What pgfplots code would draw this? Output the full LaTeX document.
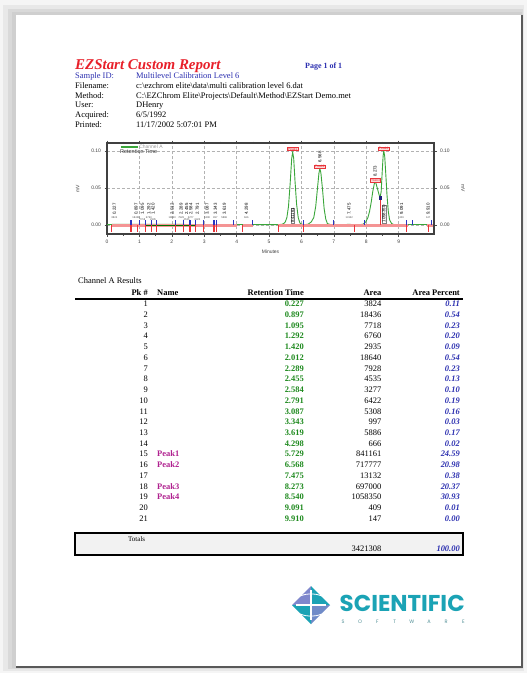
\documentclass[border=0pt]{standalone}
\usepackage{pgfplots}
\pgfplotsset{compat=1.18}
\usepackage{fontspec}
\setmainfont{Liberation Serif}
\setsansfont{Liberation Sans}
\newfontfamily\logofont{Poppins}

\definecolor{ezred}{HTML}{E8202A}
\definecolor{ezblue}{HTML}{2B2FB0}
\definecolor{ezgreen}{HTML}{1E8A1E}
\definecolor{ezmag}{HTML}{B0208F}
\definecolor{trace}{HTML}{3AA63A}
\definecolor{band}{HTML}{F49494}
\definecolor{mred}{HTML}{E8343A}
\definecolor{mblue}{HTML}{2A35C0}
\definecolor{teal}{HTML}{1BA3B5}
\definecolor{lav}{HTML}{7F87CC}

\tikzset{
  t/.style={inner sep=0pt, font=\fontsize{8.5}{9}\selectfont},
  hd/.style={inner sep=0pt, font=\fontsize{8.5}{9}\selectfont\bfseries},
  lbl/.style={inner sep=0.3pt, rotate=90, anchor=west, font=\fontsize{4.4}{5}\sffamily},
  tiny/.style={inner sep=0pt, font=\fontsize{2.6}{3}\sffamily, text=black!70},
  pbox/.style={draw=mred, text=mred, fill=band!35, inner sep=0.5pt, line width=0.4bp, font=\fontsize{3.4}{4}\sffamily},
}

\begin{document}
\begin{tikzpicture}[x=1bp,y=-1bp]
\useasboundingbox (0,0) rectangle (527,673);
% sheet and shadow
\fill[black!4] (0,0) rectangle (527,673);
\fill[black!9] (3,5) rectangle (524,671);
\fill[black!15] (8,9) rectangle (523,669);
\fill[black!19] (12,12) rectangle (522,668);
\fill[white] (16,15) rectangle (522,667);
\draw[black!65, line width=1.8bp] (522,15) -- (522,667) -- (16,667);

% report header
\node[inner sep=0pt, anchor=base west, text=ezred, font=\fontsize{15}{15}\selectfont\bfseries\itshape] at (75,69.5) {EZStart Custom Report};
\node[hd, anchor=base west, text=ezblue, font=\fontsize{8}{8}\selectfont\bfseries] at (305,68.5) {Page 1 of 1};
\node[t, anchor=base west, text=ezblue] at (75,79) {Sample ID:};
\node[t, anchor=base west, text=ezblue] at (136,79) {Multilevel Calibration Level 6};
\node[t, anchor=base west] at (75,89) {Filename:};
\node[t, anchor=base west] at (136,89) {c:\textbackslash ezchrom elite\textbackslash data\textbackslash multi calibration level 6.dat};
\node[t, anchor=base west] at (75,98.5) {Method:};
\node[t, anchor=base west] at (136,98.5) {C:\textbackslash EZChrom Elite\textbackslash Projects\textbackslash Default\textbackslash Method\textbackslash EZStart Demo.met};
\node[t, anchor=base west] at (75,108) {User:};
\node[t, anchor=base west] at (136,108) {DHenry};
\node[t, anchor=base west] at (75,118) {Acquired:};
\node[t, anchor=base west] at (136,118) {6/5/1992};
\node[t, anchor=base west] at (75,127.5) {Printed:};
\node[t, anchor=base west] at (136,127.5) {11/17/2002 5:07:01 PM};

% chromatogram
\begin{axis}[
  at={(107bp,-234bp)}, anchor=south west, scale only axis,
  width=327bp, height=91bp,
  xmin=0, xmax=10.09, ymin=-0.0121, ymax=0.1104,
  xtick={0,1,...,9}, minor x tick num=1,
  ytick={0,0.05,0.1}, yticklabels={0.00,0.05,0.10},
  /pgf/number format/assume math mode=true,
  tick align=outside,
  major tick length=2.5bp, minor tick length=1.5bp,
  tick style={black!70, line width=0.4bp},
  axis line style={black!75, line width=1.4bp},
  xmajorgrids, ymajorgrids,
  major grid style={densely dashed, black!30, line width=0.4bp},
  tick label style={font=\fontsize{5}{5}\sffamily, text=black!75},
  xlabel={Minutes}, ylabel={mV},
  label style={font=\fontsize{5}{5}\sffamily, text=black!75},
  xlabel style={at={(axis description cs:0.5,-0.2)}, anchor=center},
  ylabel style={at={(axis description cs:-0.09,0.5)}, anchor=center},
  legend style={at={(axis cs:0.38,0.1098)}, anchor=north west, draw=none, fill=none,
    font=\fontsize{5}{5}\sffamily, text=black!40, inner sep=0.5pt,
    nodes={inner sep=0.5pt}},
  legend image post style={line width=1.8bp},
]
% detector trace
\addplot[trace, line width=0.9bp] coordinates {
(0,0.0005) (0.227,0.0009) (1.0,0.0009) (2.0,0.0008) (3.0,0.0007) (4.298,0.0007)
(5.30,0.0005) (5.40,0.001) (5.45,0.002) (5.50,0.004) (5.55,0.010) (5.60,0.025)
(5.65,0.055) (5.70,0.090) (5.729,0.098) (5.76,0.090) (5.80,0.060) (5.85,0.028)
(5.90,0.010) (5.95,0.003) (6.00,0.001) (6.10,0.0005)
(6.20,0.001) (6.30,0.004) (6.38,0.010) (6.44,0.025) (6.50,0.052) (6.54,0.070)
(6.568,0.076) (6.60,0.070) (6.65,0.048) (6.70,0.022) (6.75,0.008) (6.80,0.002)
(6.90,0.0005) (7.475,0.0008) (7.80,0.0005)
(7.90,0.001) (7.98,0.004) (8.05,0.010) (8.10,0.018) (8.15,0.030) (8.20,0.045)
(8.25,0.056) (8.273,0.058) (8.30,0.056) (8.35,0.048) (8.40,0.040) (8.43,0.038)
(8.46,0.045) (8.49,0.070) (8.52,0.093) (8.54,0.100) (8.57,0.092) (8.60,0.070)
(8.64,0.040) (8.68,0.018) (8.72,0.007) (8.78,0.002) (8.85,0.0005)
(9.091,0.0007) (9.910,0.0007) (10.09,0.0005)};
\addlegendentry{Channel A}
% integration baselines
\addplot[band, line width=3bp, forget plot] coordinates {(0.15,-0.0006) (4.0,-0.0006)};
\addplot[band, line width=3bp, forget plot] coordinates {(4.19,-0.0006) (4.5,-0.0006)};
\addplot[band, line width=3bp, forget plot] coordinates {(5.29,-0.0006) (9.3,-0.0006)};
\addplot[band, line width=3bp, forget plot] coordinates {(9.88,-0.0006) (10.05,-0.0006)};
\addplot[black!55!green, line width=0.8bp, forget plot] coordinates {(1.2,-0.0009) (2.74,-0.0009)};
% peak start / stop marks
\addplot[ycomb, mred, line width=1.1bp, forget plot] coordinates {
(0.15,-0.0095) (0.74,-0.0095) (0.94,-0.0095) (1.2,-0.0095) (1.38,-0.0095) (1.53,-0.0095)
(2.1,-0.0095) (2.36,-0.0095) (2.56,-0.0095) (2.74,-0.0095) (2.99,-0.0095) (3.3,-0.0095)
(3.39,-0.0095) (4.19,-0.0095) (5.29,-0.0095) (6.06,-0.0095) (7.65,-0.0095) (9.23,-0.0095)
(9.92,-0.0095)};
\addplot[ycomb, mblue, line width=1.1bp, forget plot] coordinates {
(0.74,0.0065) (1.0,0.0065) (1.2,0.0065) (1.38,0.0065) (1.53,0.0065) (2.1,0.0065)
(2.36,0.0065) (2.56,0.0065) (2.74,0.0065) (2.99,0.0065) (3.3,0.0065) (3.39,0.0065)
(3.9,0.0065) (4.5,0.0065) (6.06,0.0065) (6.98,0.0065) (7.94,0.0065) (9.23,0.0065)
(9.42,0.0065) (10.02,0.0065)};
% valley drop line
\addplot[mred, line width=1.2bp, forget plot] coordinates {(8.43,0) (8.43,0.036)};
\addplot[only marks, mark=square*, mark size=1.2bp, color=ezblue!70!black, forget plot] coordinates {(8.43,0.037)};
% peak labels
\foreach \x/\a/\dy in {0.227/3824/0,0.897/18436/0,1.095/7718/0.0028,1.292/6760/0,1.420/2935/0.0028,
  2.012/18640/0,2.289/7928/0,2.455/4535/0.0028,2.584/3277/0,2.791/6422/0.0028,3.087/5308/0,
  3.343/997/0,3.619/5886/0,4.298/666/0,7.475/13132/0,9.091/409/0,9.910/147/0} {
  \edef\tmp{\noexpand\node[lbl] at (axis cs:\x,0.0135) {\x};
    \noexpand\node[tiny] at (axis cs:\x,0.0097-\dy) {\a};}
  \tmp
}
\node[lbl, fill=white, draw=black!50, line width=0.2bp] at (axis cs:5.729,0.003) {841161};
\node[lbl, fill=white, draw=black!50, line width=0.2bp] at (axis cs:8.54,0.003) {1058350};
\node[pbox] at (axis cs:5.729,0.1025) {Peak1};
\node[pbox] at (axis cs:6.568,0.0785) {Peak2};
\node[lbl, fill=white] at (axis cs:6.568,0.0835) {6.568};
\node[pbox] at (axis cs:8.273,0.0605) {Peak3};
\node[lbl, fill=white] at (axis cs:8.273,0.0645) {8.273};
\node[pbox] at (axis cs:8.54,0.1030) {Peak4};
\node[inner sep=0pt, anchor=west, font=\fontsize{5.5}{6}\sffamily, text=black!80] at (axis cs:0.40,0.0985) {Retention Time};
\end{axis}
% right hand scale
\begin{axis}[
  at={(107bp,-234bp)}, anchor=south west, scale only axis,
  width=327bp, height=91bp,
  xmin=0, xmax=10.09, ymin=-0.0121, ymax=0.1104,
  axis x line=none, axis y line*=right,
  ytick={0,0.05,0.1}, yticklabels={0.00,0.05,0.10},
  tick align=outside, major tick length=2.5bp,
  tick style={black!70, line width=0.4bp},
  axis line style={black!75, line width=1.4bp},
  tick label style={font=\fontsize{5}{5}\sffamily, text=black!75},
  ylabel={mV},
  label style={font=\fontsize{5}{5}\sffamily, text=black!75},
  ylabel style={at={(axis description cs:1.089,0.5)}, anchor=center, rotate=180},
]
\addplot[draw=none] coordinates {(0,0)};
\end{axis}

% results table
\node[t, anchor=base west] at (78,283.5) {Channel A Results};
\node[hd, anchor=base east] at (148,295.5) {Pk \#};
\node[hd, anchor=base west] at (157,295.5) {Name};
\node[hd, anchor=base east] at (304,295.5) {Retention Time};
\node[hd, anchor=base east] at (381.5,295.5) {Area};
\node[hd, anchor=base east] at (460,295.5) {Area Percent};
\draw[black, line width=2.2bp] (75,299) -- (463,299);
\foreach \n/\rt/\ar/\ap [count=\i from 0] in {
  1/0.227/3824/0.11, 2/0.897/18436/0.54, 3/1.095/7718/0.23, 4/1.292/6760/0.20,
  5/1.420/2935/0.09, 6/2.012/18640/0.54, 7/2.289/7928/0.23, 8/2.455/4535/0.13,
  9/2.584/3277/0.10, 10/2.791/6422/0.19, 11/3.087/5308/0.16, 12/3.343/997/0.03,
  13/3.619/5886/0.17, 14/4.298/666/0.02, 15/5.729/841161/24.59, 16/6.568/717777/20.98,
  17/7.475/13132/0.38, 18/8.273/697000/20.37, 19/8.540/1058350/30.93, 20/9.091/409/0.01,
  21/9.910/147/0.00} {
  \node[t, anchor=base east] at (148,{306.8+\i*10.72}) {\n};
  \node[hd, anchor=base east, text=ezgreen] at (304,{306.8+\i*10.72}) {\rt};
  \node[t, anchor=base east] at (381.5,{306.8+\i*10.72}) {\ar};
  \node[hd, anchor=base east, text=ezblue, font=\fontsize{8.5}{9}\selectfont\bfseries\itshape] at (460,{306.8+\i*10.72}) {\ap};
}
\foreach \r/\nm in {14/Peak1, 15/Peak2, 17/Peak3, 18/Peak4}
  \node[hd, anchor=base west, text=ezmag] at (157,{306.8+\r*10.72}) {\nm};
% totals
\draw[black, line width=1.8bp, fill=black!5] (75,533) rectangle (463,555);
\node[t, anchor=base west, font=\fontsize{7}{7}\selectfont] at (128,541.5) {Totals};
\node[t, anchor=base east] at (381.5,551.5) {3421308};
\node[hd, anchor=base east, text=ezblue, font=\fontsize{8.5}{9}\selectfont\bfseries\itshape] at (460,551.5) {100.00};

% logo
\fill[lav] (292,605) -- (311,586) -- (311,605) -- cycle;
\fill[teal] (311,586) -- (330,605) -- (311,605) -- cycle;
\fill[lav!85!teal] (330,605) -- (311,624) -- (311,605) -- cycle;
\fill[teal] (311,624) -- (292,605) -- (311,605) -- cycle;
\draw[white, line width=1.2bp] (296,605) -- (326,605) (311,590) -- (311,620);
\draw[white, line width=0.8bp] (300,596) to[bend left=20] (322,596) (300,614) to[bend right=20] (322,614);
\node[inner sep=0pt, anchor=base west, text=teal] at (339.5,611) {\resizebox{125bp}{!}{\logofont\bfseries SCIENTIFIC}};
\foreach \l [count=\k from 0] in {S,O,F,T,W,A,R,E}
  \node[inner sep=0pt, anchor=base, font=\fontsize{5}{5}\logofont, text=teal!45!gray] at ({343+\k*17.2},623) {\l};
\end{tikzpicture}
\end{document}
